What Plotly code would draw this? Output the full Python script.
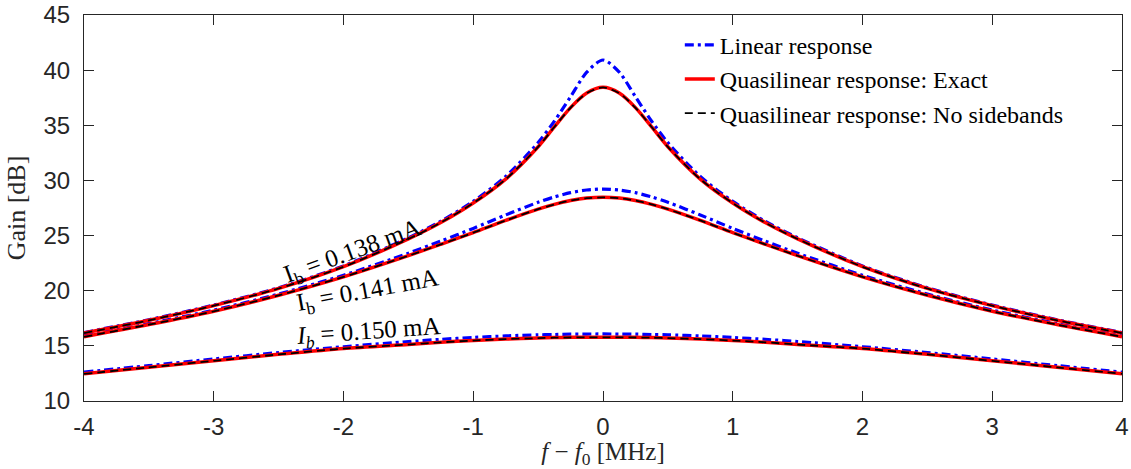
import plotly.graph_objects as go

# frequency offset f - f0 [MHz]
freq = [-4, -3.5, -3, -2.5, -2, -1.5, -1.25, -1, -0.75, -0.5, -0.375, -0.25, -0.125, 0,
        0.125, 0.25, 0.375, 0.5, 0.75, 1, 1.25, 1.5, 2, 2.5, 3, 3.5, 4]

# Ib = 0.138 mA
lin_138 = [16.21, 17.37, 18.70, 20.27, 22.25, 24.80, 26.30, 28.10, 30.36, 33.43, 35.37, 37.59, 39.82, 40.92,
           39.82, 37.59, 35.37, 33.43, 30.36, 28.10, 26.30, 24.80, 22.25, 20.27, 18.70, 17.37, 16.21]
ex_138 = [16.17, 17.32, 18.65, 20.21, 22.18, 24.70, 26.18, 27.95, 30.12, 33.05, 34.85, 36.60, 37.92, 38.44,
          37.92, 36.60, 34.85, 33.05, 30.12, 27.95, 26.18, 24.70, 22.18, 20.21, 18.65, 17.32, 16.17]
ns_138 = [16.16, 17.31, 18.64, 20.20, 22.17, 24.69, 26.17, 27.94, 30.11, 33.04, 34.84, 36.59, 37.91, 38.43,
          37.91, 36.59, 34.84, 33.04, 30.11, 27.94, 26.17, 24.69, 22.17, 20.20, 18.64, 17.31, 16.16]

# Ib = 0.141 mA
lin_141 = [15.92, 17.02, 18.24, 19.70, 21.40, 23.40, 24.50, 25.65, 26.87, 28.02, 28.50, 28.89, 29.13, 29.22,
           29.13, 28.89, 28.50, 28.02, 26.87, 25.65, 24.50, 23.40, 21.40, 19.70, 18.24, 17.02, 15.92]
ex_141 = [15.83, 16.93, 18.14, 19.59, 21.26, 23.18, 24.21, 25.27, 26.38, 27.40, 27.83, 28.18, 28.40, 28.47,
          28.40, 28.18, 27.83, 27.40, 26.38, 25.27, 24.21, 23.18, 21.26, 19.59, 18.14, 16.93, 15.83]
ns_141 = [15.82, 16.92, 18.13, 19.58, 21.25, 23.17, 24.20, 25.26, 26.37, 27.39, 27.82, 28.17, 28.39, 28.46,
          28.39, 28.17, 27.82, 27.39, 26.37, 25.26, 24.20, 23.17, 21.25, 19.58, 18.13, 16.92, 15.82]

# Ib = 0.150 mA
lin_150 = [12.62, 13.21, 13.81, 14.39, 14.92, 15.39, 15.59, 15.76, 15.90, 16.00, 16.03, 16.06, 16.07, 16.08,
           16.07, 16.06, 16.03, 16.00, 15.90, 15.76, 15.59, 15.39, 14.92, 14.39, 13.81, 13.21, 12.62]
ex_150 = [12.47, 13.06, 13.65, 14.23, 14.76, 15.13, 15.33, 15.49, 15.62, 15.71, 15.75, 15.77, 15.78, 15.78,
          15.78, 15.77, 15.75, 15.71, 15.62, 15.49, 15.33, 15.13, 14.76, 14.23, 13.65, 13.06, 12.47]
ns_150 = [12.46, 13.05, 13.64, 14.22, 14.75, 15.12, 15.32, 15.48, 15.61, 15.70, 15.74, 15.76, 15.77, 15.77,
          15.77, 15.76, 15.74, 15.70, 15.61, 15.48, 15.32, 15.12, 14.75, 14.22, 13.64, 13.05, 12.46]

x_ticks = [-4, -3, -2, -1, 0, 1, 2, 3, 4]
x_ticklabels = ["-4", "-3", "-2", "-1", "0", "1", "2", "3", "4"]
y_ticks = [10, 15, 20, 25, 30, 35, 40, 45]

labels = ["I<sub>b</sub> = 0.138 mA", "I<sub>b</sub> = 0.141 mA", "<i>I<sub>b</sub></i> = 0.150 mA"]
label_x = [-1.93, -1.81, -1.81]
label_y = [23.45, 19.9, 16.25]
label_angle = [-20, -10.5, -4]

names = ["Linear response", "Quasilinear response: Exact", "Quasilinear response: No sidebands"]

SERIF = "Liberation Serif"
fig = go.Figure()

groups = [(lin_138, ex_138, ns_138), (lin_141, ex_141, ns_141), (lin_150, ex_150, ns_150)]
for gi, (lin, ex, ns) in enumerate(groups):
    fig.add_trace(go.Scatter(x=freq, y=lin, mode="lines", name=names[0], legendgroup="lin",
                             showlegend=(gi == 0), legendrank=1,
                             line=dict(color="#0000FF", width=3.2, dash="9px,4px,3px,4px",
                                       shape="spline", smoothing=0.8)))
for gi, (lin, ex, ns) in enumerate(groups):
    fig.add_trace(go.Scatter(x=freq, y=ex, mode="lines", name=names[1], legendgroup="ex",
                             showlegend=(gi == 0), legendrank=2,
                             line=dict(color="#FF0000", width=3.5, shape="spline", smoothing=0.8)))
for gi, (lin, ex, ns) in enumerate(groups):
    fig.add_trace(go.Scatter(x=freq, y=ns, mode="lines", name=names[2], legendgroup="ns",
                             showlegend=(gi == 0), legendrank=3,
                             line=dict(color="#000000", width=1.8, dash="8px,5px",
                                       shape="spline", smoothing=0.8)))

for t, xx, yy, a in zip(labels, label_x, label_y, label_angle):
    fig.add_annotation(x=xx, y=yy, text=t, textangle=a, showarrow=False,
                       font=dict(family=SERIF, size=25, color="#000000"))

axis_common = dict(showline=True, linecolor="#262626", linewidth=1, mirror="allticks",
                   ticks="inside", ticklen=10, tickcolor="#262626", showgrid=False, zeroline=False,
                   automargin=False, ticklabeloverflow="allow",
                   tickfont=dict(family="Liberation Sans", size=24, color="#262626"))

fig.update_xaxes(range=[-4, 4], tickvals=x_ticks, ticktext=x_ticklabels, ticklabelstandoff=4,
                 title=dict(text="<i>f</i> − <i>f</i><sub>0</sub> [MHz]",
                            font=dict(family=SERIF, size=25, color="#262626"), standoff=7),
                 **axis_common)
fig.update_yaxes(range=[10, 45], tickvals=y_ticks, ticklabelstandoff=8,
                 title=dict(text="Gain [dB]", font=dict(family=SERIF, size=26, color="#262626"),
                            standoff=10),
                 **axis_common)

fig.update_layout(
    width=1131, height=469,
    margin=dict(l=84, r=9, t=15, b=68),
    plot_bgcolor="white", paper_bgcolor="white",
    legend=dict(x=0.574, y=0.98, xanchor="left", yanchor="top", bgcolor="rgba(0,0,0,0)",
                font=dict(family=SERIF, size=24, color="#000000"), traceorder="normal",
                tracegroupgap=0),
)

fig.write_html("out.html", config={"displayModeBar": False},
               post_script="document.body.style.margin='0px';")
